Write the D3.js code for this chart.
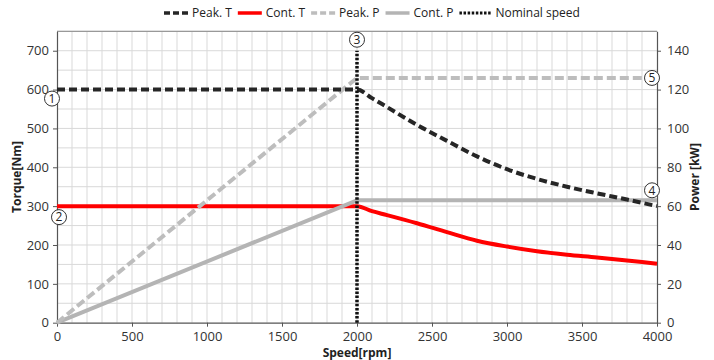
<!DOCTYPE html>
<html>
<head>
<meta charset="utf-8">
<script src="https://cdn.jsdelivr.net/npm/d3@7"></script>
<style>
  body { margin: 0; background: #fff; }
  text { font-family: "Open Sans", sans-serif; }
</style>
</head>
<body>
<div class="chart"></div>
<script>
// speed axis of the curves [rpm]
var speedT = [0, 2000, 2100, 2200, 2400, 2600, 2800, 3000, 3200, 3400, 3600, 3800, 4000];
var peakT  = [600, 600, 578, 555, 509, 468, 428, 395, 370, 350, 333, 317, 300];
var contT  = [300, 300, 287, 277, 256, 233, 211, 196, 184, 175, 168, 160, 152];

var speedP = [0, 2000, 4000];
var peakP  = [0, 126, 126];
var contP  = [0, 63, 63];

var nominalSpeed = 2000;

var torqueTicks = [0, 100, 200, 300, 400, 500, 600, 700];
var powerTicks  = [0, 20, 40, 60, 80, 100, 120, 140];
var speedTicks  = [0, 500, 1000, 1500, 2000, 2500, 3000, 3500, 4000];

// numbered operating points: [label, speed, value, axis]
var points = [
  ["1", 0, 600, "T"],
  ["2", 0, 300, "T"],
  ["3", 2000, 700, "T"],
  ["4", 4000, 63, "P"],
  ["5", 4000, 126, "P"]
];

var width = 714, height = 360;
var margin = { top: 31.3, right: 57, bottom: 37.3, left: 57 };

var x = d3.scaleLinear().domain([0, 4000]).range([margin.left, width - margin.right]);
var yT = d3.scaleLinear().domain([0, 750]).range([height - margin.bottom, margin.top]);
var yP = d3.scaleLinear().domain([0, 150]).range([height - margin.bottom, margin.top]);

var svg = d3.select(".chart").append("svg")
  .attr("width", width)
  .attr("height", height);

svg.append("rect").attr("width", width).attr("height", height).attr("fill", "#fff");

// grid
var grid = svg.append("g").attr("stroke", "#d9d9d9").attr("stroke-width", 1);
grid.selectAll("line.v").data(d3.range(100, 4000, 100)).enter()
  .append("line")
  .attr("x1", function (d) { return x(d); })
  .attr("x2", function (d) { return x(d); })
  .attr("y1", yT(0))
  .attr("y2", yT(750));
grid.selectAll("line.h").data(d3.range(50, 751, 50)).enter()
  .append("line")
  .attr("x1", x(0))
  .attr("x2", x(4000))
  .attr("y1", function (d) { return yT(d); })
  .attr("y2", function (d) { return yT(d); });

// top border
svg.append("line")
  .attr("x1", x(0)).attr("x2", x(4000))
  .attr("y1", yT(750)).attr("y2", yT(750))
  .attr("stroke", "#888");

// axes
function styleAxis(g) {
  g.select(".domain").attr("stroke", "#555").attr("stroke-width", 1.2);
  g.selectAll(".tick line").attr("stroke", "#555");
  g.selectAll(".tick text").attr("fill", "#333").style("font-size", "13px")
    .style("font-family", "'Open Sans', sans-serif");
}

svg.append("g")
  .attr("transform", "translate(" + x(0) + ",0)")
  .call(d3.axisLeft(yT).tickValues(torqueTicks).tickFormat(d3.format("d"))
    .tickSize(4).tickPadding(4).tickSizeOuter(0))
  .call(styleAxis);

svg.append("g")
  .attr("transform", "translate(" + x(4000) + ",0)")
  .call(d3.axisRight(yP).tickValues(powerTicks).tickFormat(d3.format("d"))
    .tickSize(4).tickPadding(6).tickSizeOuter(0))
  .call(styleAxis);

svg.append("g")
  .attr("transform", "translate(0," + yT(0) + ")")
  .call(d3.axisBottom(x).tickValues(speedTicks).tickFormat(d3.format("d"))
    .tickSize(4).tickPadding(5).tickSizeOuter(0))
  .call(styleAxis);

// axis titles
svg.append("text")
  .attr("transform", "translate(21," + ((yT(0) + yT(750)) / 2) + ") rotate(-90)")
  .attr("text-anchor", "middle")
  .style("font-size", "12px").style("font-weight", "bold").attr("fill", "#222")
  .text("Torque[Nm]");
svg.append("text")
  .attr("transform", "translate(699," + ((yT(0) + yT(750)) / 2) + ") rotate(-90)")
  .attr("text-anchor", "middle")
  .style("font-size", "12px").style("font-weight", "bold").attr("fill", "#222")
  .text("Power [kW]");
svg.append("text")
  .attr("x", (x(0) + x(4000)) / 2)
  .attr("y", 357)
  .attr("text-anchor", "middle")
  .style("font-size", "12px").style("font-weight", "bold").attr("fill", "#222")
  .text("Speed[rpm]");

// series
var series = [
  { label: "Peak. T", color: "#262626", dash: "8,4", w: 4, xs: speedT, ys: peakT, y: yT, order: 3, curve: d3.curveMonotoneX },
  { label: "Cont. T", color: "#ff0000", dash: null, w: 4, xs: speedT, ys: contT, y: yT, order: 0, curve: d3.curveMonotoneX },
  { label: "Peak. P", color: "#bdbdbd", dash: "9,4", w: 4, xs: speedP, ys: peakP, y: yP, order: 2, curve: d3.curveLinear },
  { label: "Cont. P", color: "#b4b4b4", dash: null, w: 4, xs: speedP, ys: contP, y: yP, order: 1, curve: d3.curveLinear }
];

svg.append("g").selectAll("path")
  .data(series.slice().sort(function (a, b) { return a.order - b.order; }))
  .enter().append("path")
  .attr("d", function (s) {
    var line = d3.line()
      .curve(s.curve)
      .x(function (d) { return x(d[0]); })
      .y(function (d) { return s.y(d[1]); });
    return line(s.xs.map(function (v, i) { return [v, s.ys[i]]; }));
  })
  .attr("fill", "none")
  .attr("stroke", function (s) { return s.color; })
  .attr("stroke-width", function (s) { return s.w; })
  .attr("stroke-dasharray", function (s) { return s.dash; })
  .attr("stroke-linejoin", "round");

// nominal speed
svg.append("line")
  .attr("x1", x(nominalSpeed)).attr("x2", x(nominalSpeed))
  .attr("y1", yT(0)).attr("y2", yT(700))
  .attr("stroke", "#111")
  .attr("stroke-width", 3.5)
  .attr("stroke-dasharray", "2.5,1.6");

// numbered markers
var offsets = { "1": [-5, 9], "2": [2, 11], "3": [0, -11], "4": [-5, -10], "5": [-5, 0] };
var mk = svg.append("g").selectAll("g").data(points).enter().append("g")
  .attr("transform", function (d) {
    var yy = d[3] === "T" ? yT(d[2]) : yP(d[2]);
    var o = offsets[d[0]];
    return "translate(" + (x(d[1]) + o[0]) + "," + (yy + o[1]) + ")";
  });
mk.append("circle").attr("r", 7.5).attr("fill", "#fff").attr("stroke", "#333").attr("stroke-width", 1);
mk.append("text")
  .attr("text-anchor", "middle")
  .attr("dy", "0.36em")
  .style("font-size", "12px").attr("fill", "#222")
  .text(function (d) { return d[0]; });

// legend
var legendItems = series.map(function (s) { return { label: s.label, color: s.color, dash: s.dash }; });
legendItems.push({ label: "Nominal speed", color: "#111", dash: "2.5,1.6" });

var legend = svg.append("g").attr("transform", "translate(0,13)");
var lx = 164;
legendItems.forEach(function (d) {
  var sw = d.label === "Nominal speed" ? 32 : 24;
  legend.append("line")
    .attr("x1", lx).attr("x2", lx + sw)
    .attr("y1", 0).attr("y2", 0)
    .attr("stroke", d.color)
    .attr("stroke-width", d.label === "Nominal speed" ? 3 : 3.5)
    .attr("stroke-dasharray", d.dash === "8,4" || d.dash === "9,4" ? "6,3" : d.dash);
  var t = legend.append("text")
    .attr("x", lx + sw + 4)
    .attr("dy", "0.35em")
    .style("font-size", "12px").attr("fill", "#222")
    .text(d.label);
  lx += sw + 4 + t.node().getComputedTextLength() + 6;
});
</script>
</body>
</html>
